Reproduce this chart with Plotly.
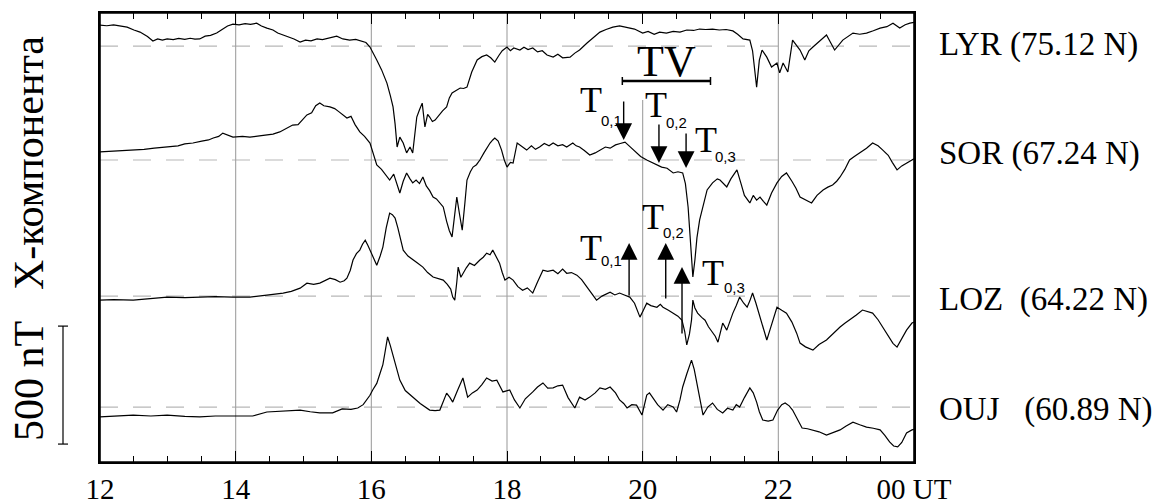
import numpy as np
import plotly.graph_objects as go

# ---------------- data (X component deviations, nT) ----------------
stations = ["LYR", "SOR", "LOZ", "OUJ"]
station_labels = ["LYR\u00a0(75.12\u00a0N)", "SOR\u00a0(67.24\u00a0N)",
                  "LOZ\u00a0\u00a0(64.22\u00a0N)", "OUJ\u00a0\u00a0\u00a0(60.89\u00a0N)"]
baseline_offsets = [1763, 1280, 703, 233]   # nT: zero level of each trace in the stacked plot

x_tick_vals = [12, 14, 16, 18, 20, 22, 24]
x_tick_text = ["12", "14", "16", "18", "20", "22", "00 UT"]

lyr_hours = [12.00, 12.10, 12.20, 12.29, 12.40, 12.50, 12.59, 12.70, 12.78, 12.85,
             12.92, 12.99, 13.08, 13.16, 13.25, 13.33, 13.40, 13.47, 13.55, 13.63,
             13.72, 13.80, 13.88, 13.96, 14.05, 14.14, 14.22, 14.31, 14.38, 14.46,
             14.55, 14.62, 14.70, 14.78, 14.86, 14.95, 15.03, 15.11, 15.20, 15.28,
             15.36, 15.49, 15.58, 15.68, 15.77, 15.86, 15.92, 15.98, 16.03, 16.08,
             16.15, 16.23, 16.28, 16.32, 16.35, 16.38, 16.42, 16.47, 16.52, 16.57,
             16.61, 16.64, 16.67, 16.71, 16.75, 16.79, 16.83, 16.86, 16.90, 16.94,
             17.00, 17.05, 17.11, 17.15, 17.19, 17.25, 17.31, 17.36, 17.41, 17.48,
             17.56, 17.63, 17.70, 17.76, 17.82, 17.88, 17.93, 18.00, 18.05, 18.10,
             18.19, 18.25, 18.31, 18.38, 18.45, 18.52, 18.59, 18.68, 18.75, 18.82,
             18.93, 19.00, 19.07, 19.18, 19.27, 19.37, 19.46, 19.56, 19.66, 19.77,
             19.88, 20.00, 20.08, 20.17, 20.25, 20.35, 20.45, 20.55, 20.65, 20.75,
             20.84, 20.93, 21.03, 21.13, 21.23, 21.33, 21.40, 21.48, 21.58, 21.62,
             21.65, 21.68, 21.72, 21.76, 21.83, 21.90, 21.98, 22.02, 22.07, 22.14,
             22.21, 22.27, 22.32, 22.39, 22.45, 22.51, 22.60, 22.71, 22.77, 22.83,
             22.95, 23.03, 23.10, 23.20, 23.30, 23.40, 23.50, 23.60, 23.69, 23.79,
             23.87, 23.94, 24.00]
lyr_nT = [89, 86, 90, 85, 80, 68, 59, 40, 21, 30,
          25, 30, 27, 32, 28, 33, 29, 30, 42, 45,
          55, 70, 85, 93, 90, 95, 92, 97, 85, 76,
          68, 55, 47, 38, 30, 17, 25, 22, 30, 27,
          33, 42, 30, 25, 28, 21, 15, -4, -30, -59,
          -100, -157, -210, -258, -330, -428, -386, -411, -453, -428,
          -453, -380, -301, -270, -242, -343, -290, -301, -320, -314,
          -290, -275, -258, -220, -199, -190, -178, -180, -174, -110,
          -59, -45, -38, -50, -68, -40, -20, -4, -20, -8,
          -17, -5, -15, -8, -25, -20, -38, -47, -35, -50,
          -47, -30, -17, 13, 35, 59, 70, 80, 85, 80,
          72, 55, 62, 50, 59, 55, 62, 59, 68, 66,
          72, 70, 72, 68, 70, 64, 50, 30, 25, -20,
          -89, -174, -60, -17, -47, -89, -72, -114, -72, -110,
          25, 0, -17, -59, -20, -4, 20, 47, 15, -17,
          25, 40, 55, 50, 55, 65, 76, 82, 97, 76,
          90, 97, 100]

sor_hours = [12.00, 12.15, 12.30, 12.49, 12.65, 12.80, 12.99, 13.15, 13.25, 13.37,
             13.50, 13.60, 13.67, 13.75, 13.81, 13.90, 13.96, 14.10, 14.21, 14.35,
             14.46, 14.55, 14.65, 14.75, 14.84, 14.92, 15.00, 15.05, 15.12, 15.18,
             15.24, 15.30, 15.39, 15.46, 15.52, 15.58, 15.64, 15.70, 15.76, 15.83,
             15.90, 15.98, 16.03, 16.08, 16.15, 16.23, 16.27, 16.33, 16.38, 16.42,
             16.47, 16.52, 16.57, 16.61, 16.66, 16.71, 16.76, 16.81, 16.86, 16.91,
             16.96, 17.01, 17.06, 17.11, 17.15, 17.19, 17.22, 17.26, 17.30, 17.34,
             17.38, 17.41, 17.46, 17.50, 17.55, 17.60, 17.66, 17.71, 17.75, 17.79,
             17.82, 17.87, 17.92, 17.96, 18.00, 18.05, 18.09, 18.15, 18.22, 18.29,
             18.36, 18.42, 18.48, 18.55, 18.62, 18.68, 18.75, 18.82, 18.88, 18.97,
             19.02, 19.07, 19.14, 19.22, 19.30, 19.37, 19.45, 19.52, 19.60, 19.67,
             19.74, 19.80, 19.86, 19.91, 19.97, 20.06, 20.13, 20.21, 20.28, 20.36,
             20.45, 20.52, 20.59, 20.63, 20.67, 20.69, 20.72, 20.74, 20.77, 20.80,
             20.84, 20.90, 20.95, 21.03, 21.10, 21.14, 21.20, 21.24, 21.30, 21.35,
             21.39, 21.45, 21.50, 21.58, 21.63, 21.68, 21.73, 21.78, 21.83, 21.90,
             21.98, 22.05, 22.12, 22.20, 22.26, 22.32, 22.40, 22.49, 22.57, 22.66,
             22.73, 22.80, 22.86, 22.91, 22.98, 23.05, 23.12, 23.20, 23.30, 23.39,
             23.47, 23.54, 23.62, 23.68, 23.75, 23.82, 23.89, 23.97, 24.00]
sor_nT = [34, 36, 38, 42, 45, 50, 55, 60, 68, 72,
          80, 85, 93, 100, 114, 105, 97, 100, 97, 102,
          106, 110, 119, 135, 148, 150, 175, 191, 200, 230,
          242, 230, 225, 218, 205, 190, 178, 185, 150, 119,
          100, 72, 30, -21, -40, -72, -85, -60, -110, -140,
          -90, -55, -80, -97, -85, -100, -72, -110, -130, -157,
          -165, -180, -199, -260, -300, -326, -250, -157, -230, -297,
          -180, -85, -50, -30, -20, 0, 30, 55, 72, 85,
          93, 80, 42, 0, -30, -10, -13, 72, 55, 42,
          60, 45, 55, 70, 60, 72, 60, 65, 55, 72,
          60, 55, 40, 21, 30, 42, 55, 50, 64, 70,
          76, 60, 45, 34, 15, 0, -10, -21, -30, -35,
          -55, -50, -55, -100, -200, -284, -400, -496, -424, -330,
          -254, -180, -127, -97, -80, -85, -100, -114, -80, -60,
          -42, -100, -150, -182, -150, -170, -157, -175, -191, -140,
          -97, -70, -55, -90, -120, -157, -170, -182, -150, -127,
          -115, -106, -90, -72, -40, 0, 15, 30, 50, 72,
          60, 42, 20, -10, -42, -25, -13, 0, 5]

loz_hours = [12.00, 12.20, 12.49, 12.75, 12.99, 13.25, 13.47, 13.70, 13.96, 14.21,
             14.46, 14.60, 14.70, 14.82, 14.95, 15.05, 15.15, 15.24, 15.32, 15.39,
             15.47, 15.54, 15.60, 15.64, 15.69, 15.73, 15.78, 15.83, 15.87, 15.91,
             15.95, 15.98, 16.03, 16.08, 16.13, 16.17, 16.22, 16.27, 16.31, 16.35,
             16.39, 16.42, 16.47, 16.54, 16.61, 16.68, 16.76, 16.83, 16.91, 16.98,
             17.06, 17.12, 17.17, 17.20, 17.23, 17.26, 17.28, 17.32, 17.35, 17.40,
             17.45, 17.52, 17.60, 17.65, 17.70, 17.75, 17.79, 17.84, 17.89, 17.93,
             17.97, 18.03, 18.09, 18.16, 18.23, 18.30, 18.38, 18.45, 18.53, 18.60,
             18.68, 18.75, 18.82, 18.88, 18.95, 19.03, 19.10, 19.18, 19.25, 19.32,
             19.40, 19.46, 19.52, 19.59, 19.66, 19.73, 19.81, 19.88, 19.96, 20.01,
             20.06, 20.12, 20.21, 20.26, 20.30, 20.38, 20.45, 20.52, 20.58, 20.62,
             20.65, 20.69, 20.72, 20.74, 20.77, 20.81, 20.87, 20.92, 20.97, 21.03,
             21.07, 21.11, 21.15, 21.18, 21.24, 21.29, 21.33, 21.38, 21.43, 21.49,
             21.54, 21.58, 21.62, 21.67, 21.73, 21.78, 21.83, 21.88, 21.92, 21.98,
             22.05, 22.12, 22.20, 22.27, 22.32, 22.40, 22.51, 22.60, 22.71, 22.80,
             22.91, 22.98, 23.05, 23.15, 23.24, 23.32, 23.39, 23.47, 23.54, 23.62,
             23.69, 23.75, 23.82, 23.89, 23.97, 24.00]
loz_nT = [-17, -15, -17, -10, -4, -6, -4, -2, -4, -4,
          4, 8, 13, 20, 34, 55, 50, 55, 65, 76,
          70, 59, 65, 76, 110, 153, 180, 195, 220, 237,
          215, 195, 160, 131, 170, 208, 290, 352, 345, 331,
          290, 250, 195, 170, 153, 140, 123, 100, 81, 75,
          68, 50, 30, -4, -17, 60, 123, 80, 97, 120,
          140, 130, 153, 165, 182, 175, 195, 170, 140, 100,
          68, 80, 68, 40, 25, 35, 13, 60, 110, 105,
          110, 95, 115, 97, 100, 89, 70, 38, 10, -17,
          0, 10, 17, 5, 13, 5, -4, -30, -89, -60,
          -30, -40, -47, -35, -47, -60, -72, -85, -102, -150,
          -207, -160, -102, -17, -50, -72, -90, -102, -130, -157,
          -170, -195, -150, -114, -144, -100, -72, -40, -4, -30,
          -47, -20, 13, -30, -89, -140, -186, -140, -102, -47,
          -60, -72, -110, -157, -199, -215, -229, -205, -186, -160,
          -131, -115, -102, -80, -59, -65, -72, -100, -131, -170,
          -200, -216, -180, -144, -114, -110]

ouj_hours = [12.00, 12.20, 12.49, 12.75, 12.99, 13.25, 13.47, 13.70, 13.96, 14.25,
             14.46, 14.70, 14.95, 15.10, 15.24, 15.43, 15.57, 15.70, 15.80, 15.88,
             15.93, 15.98, 16.02, 16.08, 16.13, 16.17, 16.20, 16.24, 16.28, 16.32,
             16.37, 16.42, 16.50, 16.61, 16.72, 16.86, 16.94, 17.01, 17.06, 17.11,
             17.16, 17.20, 17.27, 17.35, 17.42, 17.49, 17.56, 17.63, 17.70, 17.78,
             17.85, 17.94, 18.04, 18.11, 18.19, 18.27, 18.38, 18.45, 18.53, 18.60,
             18.68, 18.75, 18.82, 18.90, 19.00, 19.07, 19.15, 19.22, 19.30, 19.37,
             19.45, 19.52, 19.60, 19.66, 19.72, 19.77, 19.84, 19.91, 19.99, 20.06,
             20.10, 20.15, 20.22, 20.30, 20.37, 20.45, 20.50, 20.55, 20.59, 20.65,
             20.72, 20.76, 20.80, 20.89, 20.96, 21.03, 21.10, 21.18, 21.25, 21.33,
             21.38, 21.43, 21.50, 21.58, 21.63, 21.68, 21.72, 21.77, 21.85, 21.92,
             21.99, 22.05, 22.10, 22.16, 22.21, 22.28, 22.35, 22.43, 22.51, 22.60,
             22.71, 22.80, 22.91, 23.00, 23.10, 23.20, 23.30, 23.40, 23.50, 23.57,
             23.64, 23.70, 23.76, 23.82, 23.89, 23.97, 24.00]
ouj_nT = [-42, -38, -34, -38, -34, -40, -42, -38, -38, -38,
          -21, -18, -13, -20, -25, -25, -8, -10, -4, 10,
          30, 50, 72, 100, 144, 180, 229, 297, 260, 220,
          160, 114, 70, 42, 15, -13, -15, -13, 20, 59,
          40, 21, 70, 123, 42, 60, 72, 95, 123, 110,
          114, 64, 72, 30, -4, 35, 64, 85, 102, 80,
          81, 90, 93, 40, -4, 42, 30, 42, 60, 81,
          75, 85, 60, 30, 15, -4, 10, 8, -34, 51,
          60, 38, 10, -13, 10, 0, -21, 30, 85, 140,
          199, 160, 102, -34, 0, 17, -10, -25, -5, -13,
          10, 0, 40, 81, 60, 21, -20, -55, -60, -55,
          -13, 10, 17, 5, -13, -50, -89, -92, -97, -105,
          -119, -110, -97, -80, -64, -75, -85, -90, -97, -120,
          -148, -165, -169, -150, -110, -97, -95]

station_hours = [lyr_hours, sor_hours, loz_hours, ouj_hours]
station_nT = [lyr_nT, sor_nT, loz_nT, ouj_nT]

# marked times (UT hours)
tv_interval = [19.70, 21.00]
sor_T0_hours = [19.72, 20.24, 20.64]
loz_T0_hours = [19.80, 20.34, 20.58]
t0_subscripts = ["0,1", "0,2", "0,3"]
scale_bar_nT = 500
grid_hours = [14, 16, 18, 20, 22]

# ---------------- layout helpers ----------------
W, H = 1164, 504
ML, MR, MT, MB = 100, 250, 13, 42
PW, PH = W - ML - MR, H - MT - MB
Y_RANGE = [0, 1903]
SERIF = "Liberation Serif"
SANS = "Liberation Sans"


def xp(px):
    return (px - ML) / PW


def yp(py):
    return (MT + PH - py) / PH


fig = go.Figure()
for name, hrs, vals, off in zip(stations, station_hours, station_nT, baseline_offsets):
    fig.add_trace(go.Scatter(x=hrs, y=np.array(vals) + off, mode="lines", name=name,
                             line=dict(color="black", width=1.2), showlegend=False,
                             hoverinfo="skip"))

shapes = []
# dashed zero levels
for off in baseline_offsets:
    shapes.append(dict(type="line", xref="paper", yref="y", x0=0, x1=1, y0=off, y1=off,
                       line=dict(color="#b8b8b8", width=1.2, dash="18px,15px"), layer="below"))
# vertical hour grid
for h in grid_hours:
    top = yp(100) if h == 20 else 1
    shapes.append(dict(type="line", xref="x", yref="paper", x0=h, x1=h, y0=0, y1=top,
                       line=dict(color="#a0a0a0", width=1.1), layer="below"))
# frame
shapes.append(dict(type="rect", xref="paper", yref="paper", x0=0, x1=1, y0=0, y1=1,
                   line=dict(color="black", width=1.6), fillcolor="rgba(0,0,0,0)"))
# TV interval bar
tv_y = yp(81)
shapes.append(dict(type="line", xref="x", yref="paper", x0=tv_interval[0], x1=tv_interval[1],
                   y0=tv_y, y1=tv_y, line=dict(color="black", width=2.5)))
for t in tv_interval:
    shapes.append(dict(type="line", xref="x", yref="paper", x0=t, x1=t, y0=yp(77), y1=yp(85),
                       line=dict(color="black", width=1.5)))
# 500 nT scale bar
sb_y0 = 76
sb_x = xp(63)
shapes.append(dict(type="line", xref="paper", yref="y", x0=sb_x, x1=sb_x, y0=sb_y0,
                   y1=sb_y0 + scale_bar_nT, line=dict(color="black", width=1.2)))
for yy in (sb_y0, sb_y0 + scale_bar_nT):
    shapes.append(dict(type="line", xref="paper", yref="y", x0=xp(58), x1=xp(68), y0=yy, y1=yy,
                       line=dict(color="black", width=1.2)))

ann = []
# station labels
label_px_y = [44, 153, 299, 409]
for lab, py in zip(station_labels, label_px_y):
    ann.append(dict(text=lab, xref="paper", yref="paper", x=xp(937), y=yp(py),
                    xanchor="left", yanchor="middle", showarrow=False,
                    font=dict(family=SERIF, size=33, color="black")))
# axis-side texts
ann.append(dict(text="X-компонента", textangle=-90, xref="paper", yref="paper",
                x=xp(29), y=yp(163), xanchor="center", yanchor="middle", showarrow=False,
                font=dict(family=SERIF, size=42, color="black")))
ann.append(dict(text="500 nT", textangle=-90, xref="paper", yref="paper",
                x=xp(29), y=yp(381), xanchor="center", yanchor="middle", showarrow=False,
                font=dict(family=SERIF, size=42, color="black")))
# TV label
ann.append(dict(text="TV", xref="x", yref="paper", x=sum(tv_interval) / 2, y=yp(62),
                xanchor="center", yanchor="middle", showarrow=False,
                font=dict(family=SERIF, size=44, color="black")))

# arrows: SOR (downward), LOZ (upward)
sor_tip_px = [140, 163, 168]
sor_tail_px = [100, 123, 132]
loz_tip_px = [243, 243, 267]
loz_tail_px = [297, 300, 335]
for t, tip, tail in zip(sor_T0_hours + loz_T0_hours, sor_tip_px + loz_tip_px,
                        sor_tail_px + loz_tail_px):
    ann.append(dict(text="", xref="x", yref="paper", x=t, y=yp(tip), ax=0, ay=tail - tip,
                    axref="pixel", ayref="pixel", showarrow=True, arrowhead=2,
                    arrowsize=2.4, arrowwidth=1.4, arrowcolor="black", standoff=0))

# T0,n labels
sor_T_px = [(591, 100), (656, 105), (706, 140)]
sor_sub_px = [(611, 120), (676, 122), (725, 157)]
loz_T_px = [(591, 248), (653, 217), (713, 273)]
loz_sub_px = [(611, 260), (673, 232), (734, 287)]
for (tx, ty), (sx, sy), sub in list(zip(sor_T_px, sor_sub_px, t0_subscripts)) + \
        list(zip(loz_T_px, loz_sub_px, t0_subscripts)):
    ann.append(dict(text="T", xref="paper", yref="paper", x=xp(tx), y=yp(ty),
                    xanchor="center", yanchor="middle", showarrow=False,
                    font=dict(family=SERIF, size=36, color="black")))
    ann.append(dict(text=sub, xref="paper", yref="paper", x=xp(sx), y=yp(sy),
                    xanchor="center", yanchor="middle", showarrow=False,
                    font=dict(family=SANS, size=15, color="black")))

fig.update_layout(
    width=W, height=H,
    margin=dict(l=ML, r=MR, t=MT, b=MB, pad=0),
    paper_bgcolor="white", plot_bgcolor="white",
    shapes=shapes, annotations=ann,
    xaxis=dict(range=[12, 24], tickmode="array", tickvals=x_tick_vals, ticktext=x_tick_text,
               ticks="inside", ticklen=11, tickwidth=1.3, tickcolor="black",
               minor=dict(dtick=0.5, tick0=12, ticks="inside", ticklen=6, tickwidth=1.1,
                          tickcolor="black"),
               showline=True, linecolor="black", linewidth=1.6, mirror="allticks",
               showgrid=False, zeroline=False, automargin=False,
               tickfont=dict(family=SERIF, size=29, color="black")),
    yaxis=dict(range=Y_RANGE, showline=True, linecolor="black", linewidth=1.6, mirror=True,
               showticklabels=False, ticks="", showgrid=False, zeroline=False,
               automargin=False),
)

fig.write_html("out.html", config={"displayModeBar": False},
               post_script="document.body.style.margin='0';")
